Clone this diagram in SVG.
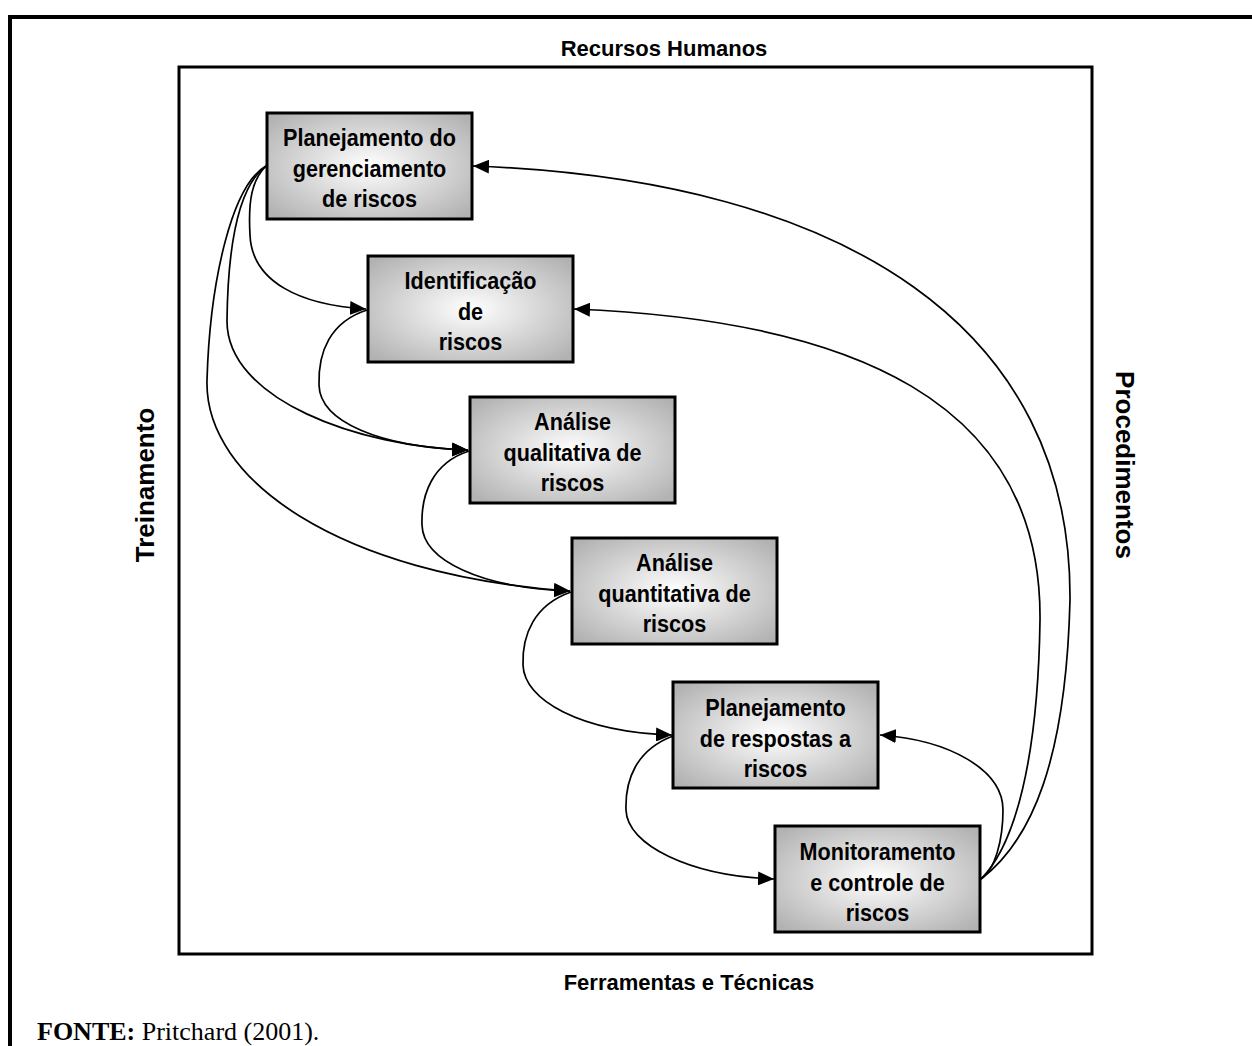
<svg xmlns="http://www.w3.org/2000/svg" width="1252" height="1046" viewBox="0 0 1252 1046">
<defs>
<radialGradient id="g" cx="50%" cy="50%" r="65%">
<stop offset="0%" stop-color="#ffffff"/>
<stop offset="100%" stop-color="#b2b2b2"/>
</radialGradient>
<marker id="ah" markerUnits="userSpaceOnUse" markerWidth="17" markerHeight="14" refX="16" refY="7" orient="auto">
<path d="M0,0 L16,7 L0,14 Z" fill="#000"/>
</marker>
<style>
.box{fill:url(#g);stroke:#000;stroke-width:3}
.nt{font-family:"Liberation Sans",Arial,sans-serif;font-weight:bold;font-size:24px;text-anchor:middle;fill:#000}
.lab{font-family:"Liberation Sans",Arial,sans-serif;font-weight:bold;font-size:22px;text-anchor:middle;fill:#000}
.side{font-family:"Liberation Sans",Arial,sans-serif;font-weight:bold;font-size:26px;text-anchor:middle;fill:#000}
.c{fill:none;stroke:#000;stroke-width:1.7;marker-end:url(#ah)}
</style>
</defs>
<rect x="0" y="0" width="1252" height="1046" fill="#fff"/>
<rect id="outer-frame" x="10" y="17" width="1270" height="1100" fill="none" stroke="#000" stroke-width="4"/>
<rect id="inner-frame" x="179" y="67" width="913" height="887" fill="none" stroke="#000" stroke-width="3"/>
<text class="lab" x="664" y="56">Recursos Humanos</text>
<text class="lab" x="689" y="990">Ferramentas e Técnicas</text>
<text class="side" transform="translate(154,485) rotate(-90)">Treinamento</text>
<text class="side" transform="translate(1116,465) rotate(90)">Procedimentos</text>
<text x="37" y="1040" font-family="'Liberation Serif','Times New Roman',serif" font-size="26"><tspan font-weight="bold">FONTE:</tspan> Pritchard (2001).</text>

<g id="connectors">
<path class="c" d="M266 166 C252 180,248 200,250 235 C252 282,300 305,366 309"/>
<path class="c" d="M266 166 C240 185,228 240,227 320 C226 400,360 447,468 450"/>
<path class="c" d="M266 166 C232 185,210 280,207 380 C204 480,340 575,570 591"/>
<path class="c" d="M367 310 C330 322,318 352,319 385 C320 422,380 447,468 450"/>
<path class="c" d="M469 451 C432 463,421 495,422 525 C423 560,480 588,570 591"/>
<path class="c" d="M571 592 C534 605,522 635,523 665 C524 700,580 732,672 735"/>
<path class="c" d="M673 736 C636 750,625 780,626 810 C627 845,690 876,774 879"/>
<path class="c" d="M981 879 C995 870,1003 840,1003 810 C1003 770,950 740,880 735"/>
<path class="c" d="M981 879 C1015 845,1038 760,1040 620 C1042 400,850 320,574 309"/>
<path class="c" d="M981 879 C1032 840,1066 760,1070 600 C1072 330,850 180,473 166"/>
</g>

<g id="n1"><rect class="box" x="267" y="113" width="205" height="106"/>
<g transform="translate(369.5 0) scale(0.9 1)"><text class="nt" x="0" y="146">Planejamento do</text><text class="nt" x="0" y="177">gerenciamento</text><text class="nt" x="0" y="207">de riscos</text></g></g>
<g id="n2"><rect class="box" x="368" y="256" width="205" height="106"/>
<g transform="translate(470.5 0) scale(0.9 1)"><text class="nt" x="0" y="289">Identificação</text><text class="nt" x="0" y="320">de</text><text class="nt" x="0" y="350">riscos</text></g></g>
<g id="n3"><rect class="box" x="470" y="397" width="205" height="106"/>
<g transform="translate(572.5 0) scale(0.9 1)"><text class="nt" x="0" y="430">Análise</text><text class="nt" x="0" y="461">qualitativa de</text><text class="nt" x="0" y="491">riscos</text></g></g>
<g id="n4"><rect class="box" x="572" y="538" width="205" height="106"/>
<g transform="translate(674.5 0) scale(0.9 1)"><text class="nt" x="0" y="571">Análise</text><text class="nt" x="0" y="602">quantitativa de</text><text class="nt" x="0" y="632">riscos</text></g></g>
<g id="n5"><rect class="box" x="673" y="682" width="205" height="106"/>
<g transform="translate(775.5 0) scale(0.9 1)"><text class="nt" x="0" y="716">Planejamento</text><text class="nt" x="0" y="747">de respostas a</text><text class="nt" x="0" y="777">riscos</text></g></g>
<g id="n6"><rect class="box" x="775" y="826" width="205" height="106"/>
<g transform="translate(877.5 0) scale(0.9 1)"><text class="nt" x="0" y="860">Monitoramento</text><text class="nt" x="0" y="891">e controle de</text><text class="nt" x="0" y="921">riscos</text></g></g>
</svg>
